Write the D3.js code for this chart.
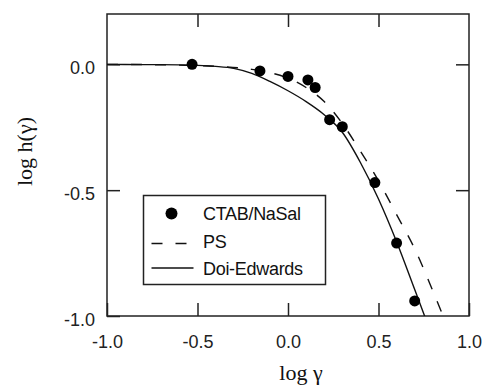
<!DOCTYPE html>
<html>
<head>
<meta charset="utf-8">
<script src="https://cdn.jsdelivr.net/npm/d3@7"></script>
<style>
  html, body { margin: 0; padding: 0; background: #fff; }
  svg { display: block; }
  .tick text { font-family: "Liberation Sans", Arial, sans-serif; font-size: 18px; fill: #222; }
</style>
</head>
<body>
<svg id="chart" width="485" height="385"></svg>
<script>
// Measured damping data: log shear strain vs log h(strain)
const ctabLogGamma = [-0.53, -0.155, 0.0, 0.11, 0.15, 0.23, 0.30, 0.48, 0.60, 0.70];
const ctabLogH     = [0.0, -0.026, -0.048, -0.062, -0.092, -0.22, -0.248, -0.47, -0.71, -0.94];

// PS reference curve
const psLogGamma = [-1.0, -0.8, -0.6, -0.4, -0.2, -0.1, 0.0, 0.1, 0.2, 0.3, 0.4, 0.5, 0.6, 0.7, 0.8, 0.86];
const psLogH     = [0.0, -0.001, -0.003, -0.008, -0.020, -0.033, -0.055, -0.092, -0.148, -0.235, -0.345, -0.463, -0.597, -0.733, -0.90, -1.005];

// Doi-Edwards prediction
const deLogGamma = [-1.0, -0.8, -0.6, -0.5, -0.4, -0.3, -0.2, -0.1, 0.0, 0.1, 0.2, 0.3, 0.4, 0.5, 0.6, 0.7, 0.76];
const deLogH     = [0.0, -0.001, -0.002, -0.004, -0.008, -0.016, -0.036, -0.068, -0.105, -0.148, -0.2, -0.27, -0.39, -0.535, -0.705, -0.895, -1.01];

const xTicks = [-1.0, -0.5, 0.0, 0.5, 1.0];
const yTicks = [0.0, -0.5, -1.0];
const legendLabels = ["CTAB/NaSal", "PS", "Doi-Edwards"];

const svg = d3.select("#chart");
const plotL = 107, plotR = 469, plotT = 14, plotB = 316;
const x = d3.scaleLinear().domain([-1, 1]).range([plotL, plotR]);
const y = d3.scaleLinear().domain([-1, 0.2]).range([plotB, plotT]);
const fmt = d => d.toFixed(1);
const ink = "#222";

svg.append("defs").append("clipPath").attr("id", "plotClip")
  .append("rect").attr("x", plotL).attr("y", plotT)
  .attr("width", plotR - plotL).attr("height", plotB - plotT);

// Axes with inward ticks on all four sides
function styleAxis(g) {
  g.select(".domain").remove();
  g.selectAll(".tick line").attr("stroke", ink).attr("stroke-width", 1.5);
}
svg.append("g").attr("transform", `translate(0,${plotB})`)
  .call(d3.axisBottom(x).tickValues(xTicks).tickSize(-13).tickSizeOuter(0).tickPadding(19).tickFormat(fmt))
  .call(styleAxis);
svg.append("g").attr("transform", `translate(${plotL},0)`)
  .call(d3.axisLeft(y).tickValues(yTicks).tickSize(-13).tickSizeOuter(0).tickPadding(12).tickFormat(fmt))
  .call(styleAxis)
  .selectAll(".tick text").attr("dy", "0.5em");
svg.append("g").attr("transform", `translate(0,${plotT})`)
  .call(d3.axisTop(x).tickValues([-0.5, 0, 0.5]).tickSize(-13).tickSizeOuter(0).tickFormat(""))
  .call(styleAxis);
svg.append("g").attr("transform", `translate(${plotR},0)`)
  .call(d3.axisRight(y).tickValues([0, -0.5]).tickSize(-13).tickSizeOuter(0).tickFormat(""))
  .call(styleAxis);

// Frame
svg.append("rect").attr("x", plotL).attr("y", plotT)
  .attr("width", plotR - plotL).attr("height", plotB - plotT)
  .attr("fill", "none").attr("stroke", ink).attr("stroke-width", 1.5);

// Curves
const line = d3.line().x(d => x(d[0])).y(d => y(d[1])).curve(d3.curveMonotoneX);
const curves = svg.append("g").attr("clip-path", "url(#plotClip)");
curves.append("path")
  .attr("d", line(deLogGamma.map((g, i) => [g, deLogH[i]])))
  .attr("fill", "none").attr("stroke", "#111").attr("stroke-width", 1.4);
curves.append("path")
  .attr("d", line(psLogGamma.map((g, i) => [g, psLogH[i]])))
  .attr("fill", "none").attr("stroke", "#111").attr("stroke-width", 1.4)
  .attr("stroke-dasharray", "11,13");

// Data points
svg.append("g").selectAll("circle")
  .data(ctabLogGamma.map((g, i) => [g, ctabLogH[i]]))
  .join("circle")
  .attr("cx", d => x(d[0])).attr("cy", d => y(d[1])).attr("r", 5.5)
  .attr("fill", "#000");

// Legend
const lg = svg.append("g");
lg.append("rect").attr("x", 143.5).attr("y", 195.5).attr("width", 182).attr("height", 89)
  .attr("fill", "#fff").attr("stroke", ink).attr("stroke-width", 1.5);
lg.append("circle").attr("cx", 171.5).attr("cy", 213.5).attr("r", 6).attr("fill", "#000");
lg.append("line").attr("x1", 151.5).attr("x2", 187).attr("y1", 243.5).attr("y2", 243.5)
  .attr("stroke", "#111").attr("stroke-width", 1.4).attr("stroke-dasharray", "11,13");
lg.append("line").attr("x1", 151.5).attr("x2", 193.5).attr("y1", 268).attr("y2", 268)
  .attr("stroke", "#111").attr("stroke-width", 1.4);
const legendBaselines = [220.3, 248, 274.7];
lg.selectAll("text.leg").data(legendLabels).join("text")
  .attr("class", "leg")
  .attr("x", 203).attr("y", (d, i) => legendBaselines[i])
  .attr("font-family", "'Liberation Sans', Arial, sans-serif")
  .attr("font-size", 18).attr("letter-spacing", -0.3).attr("fill", "#111")
  .text(d => d);

// Axis titles
svg.append("text").attr("x", 301).attr("y", 380)
  .attr("text-anchor", "middle")
  .attr("font-family", "'Liberation Serif', 'Times New Roman', serif").attr("font-size", 22)
  .attr("fill", "#111").text("log γ");
svg.append("text").attr("transform", "translate(31.5,151.5) rotate(-90)")
  .attr("text-anchor", "middle")
  .attr("font-family", "'Liberation Serif', 'Times New Roman', serif").attr("font-size", 22)
  .attr("fill", "#111").text("log h(γ)");
</script>
</body>
</html>
